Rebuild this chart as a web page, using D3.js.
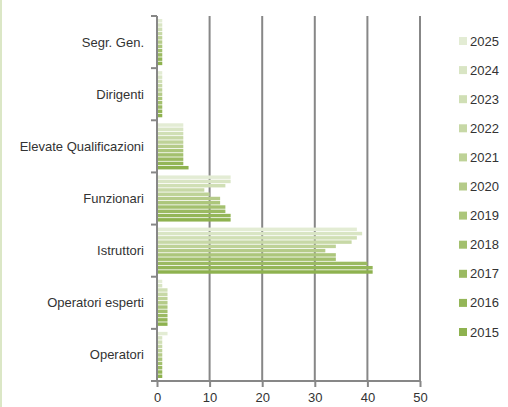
<!DOCTYPE html>
<html>
<head>
<meta charset="utf-8">
<script src="https://cdn.jsdelivr.net/npm/d3@7.9.0/dist/d3.min.js"></script>
<style>
  body { margin: 0; background: #fff; }
  text { font-family: "Liberation Sans", Arial, sans-serif; fill: #333; }
</style>
</head>
<body>
<svg id="chart" width="508" height="407"></svg>
<script>
// categories, bottom to top like Excel
const categories = ["Operatori", "Operatori esperti", "Istruttori", "Funzionari",
                    "Elevate Qualificazioni", "Dirigenti", "Segr. Gen."];
const years = ["2015", "2016", "2017", "2018", "2019", "2020", "2021", "2022", "2023", "2024", "2025"];

// one array per category, values 2015..2025
const operatori        = [1, 1, 1, 1, 1, 1, 1, 1, 1, 1, 2];
const operatoriEsperti = [2, 2, 2, 2, 2, 2, 2, 2, 2, 1, 1];
const istruttori       = [41, 41, 40, 34, 34, 32, 34, 37, 38, 39, 38];
const funzionari       = [14, 14, 13, 13, 12, 12, 10, 9, 13, 14, 14];
const elevateQual      = [6, 5, 5, 5, 5, 5, 5, 5, 5, 5, 5];
const dirigenti        = [1, 1, 1, 1, 1, 1, 1, 1, 1, 1, 1];
const segrGen          = [1, 1, 1, 1, 1, 1, 1, 1, 1, 1, 1];

const xTicks = [0, 10, 20, 30, 40, 50];

const seriesByCat = [operatori, operatoriEsperti, istruttori, funzionari, elevateQual, dirigenti, segrGen];

const colors = ["#8EB24F", "#94B658", "#9BBA62", "#A3C06E", "#ACC67B", "#B5CB89",
                "#BED297", "#C7D8A6", "#D0DFB5", "#D9E5C4", "#E3ECD4"];

const svg = d3.select("#chart");

// light border on left edge
svg.append("line").attr("x1", 1).attr("x2", 1).attr("y1", 0).attr("y2", 407)
  .attr("stroke", "#dbe7c6").attr("stroke-width", 2);

const plotLeft = 157, plotRight = 420, plotTop = 16, plotBottom = 381;

const x = d3.scaleLinear().domain([0, 50]).range([plotLeft, plotRight]);
const y = d3.scaleBand().domain(categories).range([plotBottom, plotTop]).paddingInner(0.1).paddingOuter(0.05);
// band with no padding for the tick positions
const yb = d3.scaleBand().domain(categories).range([plotBottom, plotTop]);
const yInner = d3.scaleBand().domain(years.slice().reverse()).range([0, y.bandwidth()]);

// gridlines
svg.append("g").selectAll("line").data(xTicks.slice(1)).join("line")
  .attr("x1", d => x(d)).attr("x2", d => x(d))
  .attr("y1", plotTop).attr("y2", plotBottom)
  .attr("stroke", "#878787").attr("stroke-width", 2);

// bars
const groups = svg.append("g").selectAll("g").data(categories).join("g")
  .attr("transform", d => `translate(0,${yb(d) + (yb.bandwidth() - y.bandwidth()) / 2})`);

groups.selectAll("rect")
  .data((c, i) => seriesByCat[i].map((v, j) => ({ year: years[j], value: v, color: colors[j] })))
  .join("rect")
  .attr("x", x(0))
  .attr("y", d => yInner(d.year) + 0.4)
  .attr("height", yInner.bandwidth() - 0.8)
  .attr("width", d => x(d.value) - x(0))
  .attr("fill", d => d.color);

// x axis
const xAxis = svg.append("g").attr("transform", `translate(0,${plotBottom})`)
  .call(d3.axisBottom(x).tickValues(xTicks).tickSize(6).tickPadding(6));
xAxis.select(".domain").attr("stroke", "#878787").attr("stroke-width", 2).attr("d", `M${plotLeft},0H${plotRight}`);
xAxis.selectAll(".tick line").attr("stroke", "#878787").attr("stroke-width", 2);
xAxis.selectAll("text").attr("font-size", 13).attr("fill", "#333")
  .style("font-family", "'Liberation Sans', Arial, sans-serif");

// y axis: ticks at band boundaries
const yAxisG = svg.append("g");
yAxisG.append("line").attr("x1", plotLeft).attr("x2", plotLeft).attr("y1", plotTop).attr("y2", plotBottom)
  .attr("stroke", "#878787").attr("stroke-width", 2);
const boundaries = categories.map(c => yb(c)).concat([plotBottom]);
yAxisG.selectAll(".bt").data(boundaries).join("line").attr("class", "bt")
  .attr("x1", plotLeft - 6).attr("x2", plotLeft).attr("y1", d => d).attr("y2", d => d)
  .attr("stroke", "#878787").attr("stroke-width", 2);
yAxisG.selectAll("text").data(categories).join("text")
  .attr("x", 144).attr("y", d => yb(d) + yb.bandwidth() / 2)
  .attr("dy", "0.35em").attr("text-anchor", "end").attr("font-size", 13)
  .text(d => d);

// legend, 2025 on top
const legendYears = years.slice().reverse();
const ly = d3.scalePoint().domain(legendYears).range([41, 332]);
const legend = svg.append("g").selectAll("g").data(legendYears).join("g")
  .attr("transform", d => `translate(459,${ly(d)})`);
legend.append("rect").attr("x", 0).attr("y", -4).attr("width", 8).attr("height", 8)
  .attr("fill", d => colors[years.indexOf(d)]);
legend.append("text").attr("x", 11).attr("dy", "0.35em").attr("font-size", 13).text(d => d);
</script>
</body>
</html>
